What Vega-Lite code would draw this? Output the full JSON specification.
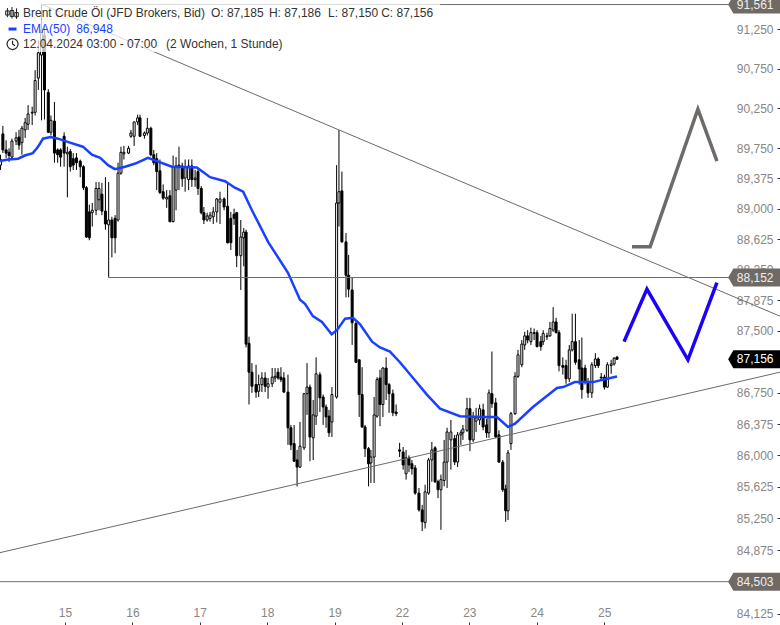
{"$schema":"https://vega.github.io/schema/vega-lite/v6.json","width":780,"height":625,"padding":{"left":0,"right":0,"top":0,"bottom":0},"autosize":{"type":"none"},"background":"white","config":{"view":{"stroke":null},"font":"Liberation Sans"},
"datasets":{
"candles":[
{"i":0,"o":89.54,"h":89.67,"l":89.48,"c":89.61},{"i":0.8,"o":89.93,"h":90.03,"l":89.69,"c":89.73},{"i":1.9,"o":89.73,"h":89.85,"l":89.63,"c":89.69},{"i":2.9,"o":89.70,"h":89.75,"l":89.58,"c":89.66},{"i":3.9,"o":89.64,"h":89.87,"l":89.61,"c":89.84},{"i":5.3,"o":89.84,"h":89.95,"l":89.79,"c":89.88},{"i":6.3,"o":89.89,"h":89.98,"l":89.73,"c":89.79},{"i":7.3,"o":89.82,"h":90.03,"l":89.67,"c":90.00},{"i":8.4,"o":89.98,"h":90.13,"l":89.88,"c":90.07},{"i":9.4,"o":90.05,"h":90.29,"l":89.98,"c":90.18},
{"i":10.8,"o":90.19,"h":90.27,"l":90.04,"c":90.20},{"i":11.8,"o":90.20,"h":90.73,"l":90.16,"c":90.60},{"i":12.9,"o":90.63,"h":91.11,"l":90.48,"c":90.95},{"i":14,"o":90.92,"h":91.56,"l":90.10,"c":91.24},{"i":15,"o":91.17,"h":91.30,"l":90.11,"c":90.48},{"i":16.3,"o":90.45,"h":90.49,"l":89.94,"c":89.95},{"i":17.2,"o":89.95,"h":90.16,"l":89.91,"c":90.10},{"i":18.4,"o":90.09,"h":90.33,"l":89.57,"c":89.69},{"i":19.5,"o":89.73,"h":89.75,"l":89.57,"c":89.67},{"i":20.5,"o":89.73,"h":89.75,"l":89.52,"c":89.64},
{"i":21.7,"o":89.90,"h":89.95,"l":89.52,"c":89.69},{"i":22.8,"o":89.68,"h":89.77,"l":89.14,"c":89.70},{"i":23.8,"o":89.71,"h":89.74,"l":89.46,"c":89.52},{"i":24.8,"o":89.62,"h":89.69,"l":89.48,"c":89.54},{"i":25.9,"o":89.63,"h":89.69,"l":89.48,"c":89.57},{"i":27.2,"o":89.59,"h":89.61,"l":89.39,"c":89.52},{"i":28.3,"o":89.52,"h":89.54,"l":89.23,"c":89.26},{"i":29.3,"o":89.26,"h":89.28,"l":88.64,"c":88.65},{"i":30.3,"o":88.96,"h":89.05,"l":88.61,"c":88.64},{"i":31.3,"o":88.95,"h":89.07,"l":88.78,"c":88.98},
{"i":32.6,"o":88.98,"h":89.33,"l":88.92,"c":89.25},{"i":33.6,"o":89.11,"h":89.33,"l":88.98,"c":89.25},{"i":34.6,"o":89.18,"h":89.32,"l":88.92,"c":88.97},{"i":35.8,"o":88.97,"h":89.39,"l":88.74,"c":88.81},{"i":36.9,"o":88.80,"h":89.33,"l":88.16,"c":88.86},{"i":38,"o":88.86,"h":88.90,"l":88.40,"c":88.64},{"i":39.1,"o":88.88,"h":88.92,"l":88.45,"c":88.64},{"i":40.1,"o":88.86,"h":89.57,"l":88.84,"c":89.44},{"i":41.1,"o":89.44,"h":89.77,"l":89.42,"c":89.70},{"i":42.1,"o":89.68,"h":89.78,"l":89.61,"c":89.70},
{"i":43.7,"o":89.69,"h":89.78,"l":89.68,"c":89.75},{"i":44.5,"o":89.90,"h":89.98,"l":89.88,"c":89.94},{"i":45.6,"o":89.90,"h":90.08,"l":89.78,"c":90.08},{"i":46.8,"o":90.08,"h":90.17,"l":90.04,"c":90.13},{"i":47.6,"o":90.13,"h":90.17,"l":89.89,"c":89.90},{"i":49.1,"o":89.91,"h":89.96,"l":89.87,"c":89.94},{"i":50.1,"o":89.94,"h":90.13,"l":89.91,"c":90.00},{"i":51.3,"o":90.00,"h":90.02,"l":89.65,"c":89.67},{"i":52.3,"o":89.67,"h":89.73,"l":89.54,"c":89.57},{"i":53.3,"o":89.62,"h":89.69,"l":89.23,"c":89.46},
{"i":54.4,"o":89.47,"h":89.61,"l":89.18,"c":89.20},{"i":55.5,"o":89.21,"h":89.30,"l":89.11,"c":89.13},{"i":56.7,"o":89.12,"h":89.23,"l":89.01,"c":89.14},{"i":57.8,"o":89.16,"h":89.23,"l":88.83,"c":88.84},{"i":58.9,"o":88.84,"h":89.66,"l":88.83,"c":89.51},{"i":59.9,"o":89.23,"h":89.64,"l":88.98,"c":89.53},{"i":60.9,"o":89.54,"h":89.77,"l":89.23,"c":89.51},{"i":62,"o":89.53,"h":89.57,"l":89.27,"c":89.37},{"i":63,"o":89.38,"h":89.61,"l":89.21,"c":89.51},{"i":64.2,"o":89.36,"h":89.61,"l":89.23,"c":89.53},
{"i":65.3,"o":89.53,"h":89.61,"l":89.27,"c":89.36},{"i":66.4,"o":89.36,"h":89.48,"l":89.27,"c":89.38},{"i":67.4,"o":89.46,"h":89.51,"l":89.17,"c":89.25},{"i":68.5,"o":89.25,"h":89.28,"l":88.93,"c":88.95},{"i":69.4,"o":88.95,"h":89.02,"l":88.81,"c":88.86},{"i":70.5,"o":88.86,"h":88.95,"l":88.84,"c":88.91},{"i":71.5,"o":88.88,"h":88.96,"l":88.84,"c":88.92},{"i":72.6,"o":88.90,"h":89.02,"l":88.81,"c":88.96},{"i":73.8,"o":88.96,"h":89.13,"l":88.83,"c":89.12},{"i":74.9,"o":89.08,"h":89.21,"l":88.81,"c":89.12},
{"i":76.3,"o":89.12,"h":89.14,"l":88.98,"c":89.02},{"i":77.5,"o":89.03,"h":89.32,"l":88.57,"c":88.58},{"i":78.6,"o":88.88,"h":88.96,"l":88.49,"c":88.58},{"i":79.7,"o":88.93,"h":89.00,"l":88.80,"c":88.88},{"i":80.6,"o":88.95,"h":88.96,"l":88.28,"c":88.42},{"i":82,"o":88.42,"h":88.86,"l":88.00,"c":88.65},{"i":83,"o":88.64,"h":88.76,"l":88.29,"c":88.71},{"i":83.8,"o":88.71,"h":88.74,"l":87.30,"c":87.34},{"i":84.8,"o":87.35,"h":87.43,"l":86.61,"c":87.00},{"i":85.8,"o":87.00,"h":87.11,"l":86.75,"c":86.83},
{"i":87.2,"o":86.85,"h":87.09,"l":86.69,"c":86.76},{"i":88.1,"o":86.77,"h":86.97,"l":86.70,"c":86.85},{"i":89.2,"o":86.85,"h":87.00,"l":86.76,"c":86.93},{"i":90.3,"o":86.93,"h":87.00,"l":86.76,"c":86.83},{"i":91.3,"o":86.82,"h":86.93,"l":86.68,"c":86.86},{"i":92.7,"o":86.86,"h":87.05,"l":86.82,"c":86.94},{"i":93.7,"o":86.93,"h":87.05,"l":86.88,"c":86.95},{"i":94.7,"o":87.00,"h":87.05,"l":86.91,"c":86.93},{"i":95.7,"o":86.94,"h":87.06,"l":86.88,"c":86.91},{"i":96.7,"o":86.93,"h":87.00,"l":86.75,"c":86.76},
{"i":98.1,"o":86.76,"h":86.97,"l":86.125,"c":86.33},{"i":99.1,"o":86.33,"h":86.365,"l":86.065,"c":86.125},{"i":100.2,"o":86.14,"h":86.365,"l":85.92,"c":85.93},{"i":101.2,"o":85.945,"h":86.065,"l":85.63,"c":85.86},{"i":102.2,"o":85.86,"h":86.40,"l":85.85,"c":86.11},{"i":103.6,"o":86.09,"h":86.75,"l":86.065,"c":86.74},{"i":104.6,"o":86.74,"h":87.11,"l":86.485,"c":86.82},{"i":105.6,"o":86.82,"h":86.85,"l":85.93,"c":86.22},{"i":106.7,"o":86.21,"h":86.665,"l":85.945,"c":86.485},{"i":107.7,"o":86.47,"h":87.18,"l":86.365,"c":86.98},
{"i":109,"o":86.97,"h":87.00,"l":86.52,"c":86.69},{"i":110.1,"o":86.70,"h":86.73,"l":86.365,"c":86.58},{"i":111.1,"o":86.58,"h":86.61,"l":86.33,"c":86.46},{"i":112.1,"o":86.47,"h":86.545,"l":86.22,"c":86.27},{"i":113.1,"o":86.40,"h":86.82,"l":86.22,"c":86.73},{"i":114.7,"o":86.70,"h":89.54,"l":86.68,"c":89.07},{"i":115.5,"o":89.07,"h":89.98,"l":88.78,"c":89.21},{"i":116.5,"o":89.22,"h":89.46,"l":88.58,"c":88.59},{"i":117.9,"o":88.59,"h":88.70,"l":87.91,"c":88.18},{"i":118.8,"o":88.18,"h":88.43,"l":87.91,"c":88.01},
{"i":120,"o":88.00,"h":88.15,"l":87.33,"c":87.60},{"i":121.3,"o":87.59,"h":87.61,"l":87.11,"c":87.12},{"i":122.4,"o":87.15,"h":87.15,"l":86.46,"c":86.73},{"i":123.4,"o":86.73,"h":87.06,"l":86.33,"c":86.34},{"i":124.4,"o":86.34,"h":86.365,"l":85.98,"c":86.08},{"i":125.6,"o":86.08,"h":86.10,"l":85.63,"c":85.90},{"i":126.4,"o":85.91,"h":86.065,"l":85.67,"c":85.98},{"i":127.5,"o":85.98,"h":86.70,"l":85.67,"c":86.485},{"i":128.5,"o":86.47,"h":86.94,"l":86.45,"c":86.91},{"i":129.5,"o":86.93,"h":87.03,"l":86.35,"c":86.61},
{"i":130.5,"o":86.61,"h":87.06,"l":86.46,"c":87.05},{"i":131.6,"o":87.05,"h":87.18,"l":86.665,"c":86.85},{"i":132.6,"o":86.85,"h":86.87,"l":86.51,"c":86.74},{"i":133.9,"o":86.74,"h":86.79,"l":86.47,"c":86.51},{"i":135,"o":86.52,"h":86.61,"l":86.47,"c":86.50},{"i":136.2,"o":86.065,"h":86.15,"l":85.98,"c":86.05},{"i":137.4,"o":86.04,"h":86.10,"l":85.83,"c":85.885},{"i":138.4,"o":85.78,"h":86.065,"l":85.71,"c":85.97},{"i":139.4,"o":85.97,"h":86.00,"l":85.80,"c":85.885},{"i":140.4,"o":85.90,"h":85.945,"l":85.77,"c":85.84},
{"i":141.5,"o":85.85,"h":85.885,"l":85.53,"c":85.55},{"i":142.8,"o":85.55,"h":85.61,"l":85.33,"c":85.35},{"i":143.9,"o":85.35,"h":85.41,"l":85.10,"c":85.21},{"i":144.9,"o":85.20,"h":85.65,"l":85.13,"c":85.565},{"i":146.1,"o":85.55,"h":85.97,"l":85.53,"c":85.945},{"i":147.2,"o":85.945,"h":86.16,"l":85.685,"c":86.065},{"i":148.3,"o":86.09,"h":86.11,"l":85.67,"c":85.685},{"i":149.3,"o":85.685,"h":85.71,"l":85.49,"c":85.59},{"i":150.3,"o":85.59,"h":85.77,"l":85.115,"c":85.71},{"i":151.4,"o":85.70,"h":86.185,"l":85.63,"c":85.92},
{"i":152.4,"o":85.92,"h":86.33,"l":85.61,"c":86.28},{"i":153.7,"o":86.185,"h":86.425,"l":85.83,"c":86.28},{"i":155,"o":86.20,"h":86.245,"l":85.885,"c":85.92},{"i":156,"o":85.92,"h":86.28,"l":85.86,"c":86.245},{"i":157.1,"o":86.245,"h":86.30,"l":86.125,"c":86.27},{"i":157.8,"o":86.27,"h":86.365,"l":86.185,"c":86.315},{"i":159.2,"o":86.30,"h":86.69,"l":86.28,"c":86.56},{"i":160.2,"o":86.56,"h":86.69,"l":86.05,"c":86.185},{"i":161.3,"o":86.185,"h":86.52,"l":86.16,"c":86.46},{"i":162.3,"o":86.41,"h":86.57,"l":86.28,"c":86.45},
{"i":163.5,"o":86.425,"h":86.61,"l":86.365,"c":86.56},{"i":164.7,"o":86.545,"h":86.62,"l":86.30,"c":86.34},{"i":165.9,"o":86.365,"h":86.44,"l":86.21,"c":86.27},{"i":166.7,"o":86.27,"h":86.79,"l":86.21,"c":86.75},{"i":167.7,"o":86.74,"h":87.25,"l":86.57,"c":86.62},{"i":169,"o":86.63,"h":86.69,"l":86.21,"c":86.22},{"i":170.1,"o":86.245,"h":86.30,"l":85.91,"c":85.92},{"i":171.4,"o":85.92,"h":85.945,"l":85.565,"c":85.59},{"i":172.4,"o":85.60,"h":85.65,"l":85.21,"c":85.34},{"i":173.2,"o":85.34,"h":86.065,"l":85.23,"c":86.03},
{"i":174.2,"o":86.14,"h":86.52,"l":86.065,"c":86.50},{"i":175.6,"o":86.50,"h":87.00,"l":86.485,"c":86.95},{"i":176.6,"o":86.95,"h":87.27,"l":86.93,"c":87.21},{"i":177.9,"o":87.09,"h":87.39,"l":87.06,"c":87.34},{"i":178.9,"o":87.33,"h":87.49,"l":87.27,"c":87.44},{"i":179.9,"o":87.44,"h":87.51,"l":87.35,"c":87.39},{"i":181,"o":87.37,"h":87.54,"l":87.33,"c":87.48},{"i":182.1,"o":87.47,"h":87.53,"l":87.39,"c":87.48},{"i":183.1,"o":87.48,"h":87.51,"l":87.30,"c":87.31},{"i":184.4,"o":87.37,"h":87.44,"l":87.26,"c":87.31},
{"i":185.2,"o":87.37,"h":87.51,"l":87.33,"c":87.47},{"i":186.5,"o":87.44,"h":87.48,"l":87.39,"c":87.43},{"i":187.5,"o":87.44,"h":87.61,"l":87.43,"c":87.53},{"i":188.6,"o":87.51,"h":87.79,"l":87.49,"c":87.61},{"i":189.6,"o":87.61,"h":87.66,"l":87.47,"c":87.48},{"i":190.6,"o":87.48,"h":87.51,"l":87.01,"c":87.08},{"i":191.9,"o":87.08,"h":87.18,"l":86.97,"c":87.06},{"i":193,"o":87.08,"h":87.15,"l":86.86,"c":86.92},{"i":194.1,"o":86.92,"h":87.33,"l":86.88,"c":87.27},{"i":195.1,"o":87.27,"h":87.71,"l":87.25,"c":87.37},
{"i":196.2,"o":87.37,"h":87.71,"l":87.09,"c":87.12},{"i":197.5,"o":87.15,"h":87.39,"l":86.85,"c":87.04},{"i":198.4,"o":87.05,"h":87.42,"l":86.68,"c":86.79},{"i":199.5,"o":87.05,"h":87.09,"l":86.85,"c":86.88},{"i":200.5,"o":86.88,"h":86.93,"l":86.69,"c":86.75},{"i":201.8,"o":86.75,"h":87.12,"l":86.69,"c":87.09},{"i":203,"o":87.08,"h":87.23,"l":87.05,"c":87.16},{"i":204,"o":87.16,"h":87.18,"l":87.05,"c":87.08},{"i":205,"o":86.94,"h":86.99,"l":86.91,"c":86.93},{"i":206.1,"o":86.94,"h":86.97,"l":86.79,"c":86.82},
{"i":207.1,"o":86.82,"h":87.12,"l":86.81,"c":87.09},{"i":208.4,"o":87.08,"h":87.15,"l":86.98,"c":87.10},{"i":209.4,"o":87.10,"h":87.18,"l":87.08,"c":87.17},{"i":210.4,"o":87.185,"h":87.186,"l":87.15,"c":87.156}
],
"ema":[{"i":-0.18,"p":89.59},{"i":2.5,"p":89.61},{"i":6,"p":89.62},{"i":8.3,"p":89.66},{"i":11,"p":89.69},{"i":12.8,"p":89.77},{"i":14.5,"p":89.87},{"i":17,"p":89.89},{"i":19.6,"p":89.87},{"i":23.7,"p":89.82},{"i":28.1,"p":89.77},{"i":31.2,"p":89.67},{"i":34,"p":89.63},{"i":36.7,"p":89.54},{"i":39,"p":89.49},{"i":42.5,"p":89.52},{"i":46,"p":89.56},{"i":50.3,"p":89.63},{"i":58.5,"p":89.52},{"i":67,"p":89.51},{"i":71.5,"p":89.39},{"i":76.6,"p":89.34},{"i":80,"p":89.26},{"i":82.8,"p":89.21},{"i":85.8,"p":88.98},{"i":91.3,"p":88.59},{"i":98.1,"p":88.21},{"i":102.2,"p":87.88},{"i":103.9,"p":87.83},{"i":106.6,"p":87.68},{"i":109.7,"p":87.61},{"i":113,"p":87.46},{"i":114.8,"p":87.51},{"i":117.6,"p":87.65},{"i":120.3,"p":87.66},{"i":122.7,"p":87.58},{"i":126.8,"p":87.37},{"i":129.5,"p":87.30},{"i":132.9,"p":87.25},{"i":136.3,"p":87.12},{"i":140.8,"p":86.93},{"i":145.5,"p":86.73},{"i":150,"p":86.56},{"i":156.8,"p":86.47},{"i":164.7,"p":86.46},{"i":169.4,"p":86.46},{"i":173.2,"p":86.34},{"i":175.6,"p":86.38},{"i":181.7,"p":86.58},{"i":189.9,"p":86.81},{"i":192,"p":86.82},{"i":196,"p":86.88},{"i":202.2,"p":86.88},{"i":207,"p":86.92},{"i":210.4,"p":86.948}],
"levels":[{"s":"a","i":14.2,"p":91.561},{"s":"a","i":249,"p":91.561},{"s":"b","i":36.7,"p":88.152},{"s":"b","i":249,"p":88.152},{"s":"c","i":-0.18,"p":84.503},{"s":"c","i":249,"p":84.503},{"s":"d","i":14.2,"p":91.561},{"s":"d","i":266,"p":87.68},{"s":"e","i":-0.18,"p":84.845},{"s":"e","i":266,"p":87.0}],
"grayzig":[{"i":215.5,"p":88.53},{"i":221.7,"p":88.53},{"i":238,"p":90.24},{"i":244.5,"p":89.59}],
"bluezig":[{"i":212.8,"p":87.37},{"i":220.6,"p":88.01},{"i":234.6,"p":87.15},{"i":244.5,"p":88.09}],
"box":[{"i":-0.18,"i2":150,"p":91.619,"p2":91.37},{"i":-0.18,"i2":98.1,"p":91.37,"p2":90.96}],
"badges":[{"i":257.2,"p":91.561,"label":"91,561"},{"i":257.2,"p":88.152,"label":"88,152"},{"i":257.2,"p":84.503,"label":"84,503"}],
"last":[{"i":257.2,"p":87.156,"label":"87,156"}],
"dark":[{"i":7.66,"p":91.45,"label":"Brent Crude Öl (JFD Brokers, Bid)"},{"i":71.8,"p":91.45,"label":"O: 87,185"},{"i":91.6,"p":91.45,"label":"H: 87,186"},{"i":111.8,"p":91.45,"label":"L: 87,150"},{"i":129.9,"p":91.45,"label":"C: 87,156"},{"i":7.66,"p":91.06,"label":"12.04.2024 03:00 - 07:00"},{"i":56.5,"p":91.06,"label":"(2 Wochen, 1 Stunde)"}],
"blue":[{"i":7.66,"p":91.25,"label":"EMA(50)"},{"i":25.8,"p":91.25,"label":"86,948"}]
},
"encoding":{
"x":{"field":"i","type":"quantitative","scale":{"domain":[-0.184,266.02],"nice":false,"zero":false,"padding":0},"axis":{"orient":"top","offset":-625,"title":null,"grid":false,"domain":false,"values":[22,45,68,91,114,137,160,183,206],"labelExpr":"['15','16','17','18','19','22','23','24','25'][(datum.value-22)/23]","tickSize":3,"tickColor":"#333333","labelPadding":3,"labelColor":"#8a8684","labelFontSize":12,"labelFont":"Liberation Sans","labelOverlap":false,"labelFlush":false}},
"y":{"field":"p","type":"quantitative","scale":{"type":"log","domain":[83.996,91.619],"nice":false,"zero":false},"axis":{"orient":"left","offset":-780,"title":null,"grid":false,"domain":false,"values":[91.25,90.75,90.25,89.75,89.375,89,88.625,88.25,87.875,87.5,86.75,86.375,86,85.625,85.25,84.875,84.125],"labelExpr":"replace(format(datum.value,'.3f'),'.',',')","tickSize":3,"tickColor":"#333333","labelPadding":4,"labelColor":"#8a8684","labelFontSize":12,"labelFont":"Liberation Sans","labelOverlap":false,"labelFlush":false}}
},
"layer":[
{"data":{"name":"candles"},"mark":{"type":"rule","stroke":"black","strokeWidth":1},"encoding":{"y":{"field":"l","type":"quantitative","scale":{"type":"log","domain":[83.996,91.619],"nice":false,"zero":false},"axis":{"orient":"left","offset":-780,"title":null,"grid":false,"domain":false,"values":[91.25,90.75,90.25,89.75,89.375,89,88.625,88.25,87.875,87.5,86.75,86.375,86,85.625,85.25,84.875,84.125],"labelExpr":"replace(format(datum.value,'.3f'),'.',',')","tickSize":3,"tickColor":"#333333","labelPadding":4,"labelColor":"#8a8684","labelFontSize":12,"labelFont":"Liberation Sans","labelOverlap":false,"labelFlush":false}},"y2":{"field":"h"}}},
{"data":{"name":"candles"},"mark":{"type":"bar","width":2,"stroke":"black","strokeWidth":1},"encoding":{"y":{"field":"o","type":"quantitative","scale":{"type":"log","domain":[83.996,91.619],"nice":false,"zero":false},"axis":{"orient":"left","offset":-780,"title":null,"grid":false,"domain":false,"values":[91.25,90.75,90.25,89.75,89.375,89,88.625,88.25,87.875,87.5,86.75,86.375,86,85.625,85.25,84.875,84.125],"labelExpr":"replace(format(datum.value,'.3f'),'.',',')","tickSize":3,"tickColor":"#333333","labelPadding":4,"labelColor":"#8a8684","labelFontSize":12,"labelFont":"Liberation Sans","labelOverlap":false,"labelFlush":false}},"y2":{"field":"c"},"fill":{"condition":{"test":"datum.c>=datum.o","value":"white"},"value":"black"}}},
{"data":{"name":"ema"},"mark":{"type":"line","stroke":"#1a40ff","strokeWidth":2.5}},
{"data":{"name":"levels"},"mark":{"type":"line","stroke":"#6e6a68","strokeWidth":1,"clip":true},"encoding":{"detail":{"field":"s"}}},
{"data":{"name":"grayzig"},"mark":{"type":"line","stroke":"#6e6a68","strokeWidth":3.5}},
{"data":{"name":"bluezig"},"mark":{"type":"line","stroke":"#1c00ff","strokeWidth":3.5}},
{"data":{"name":"box"},"mark":{"type":"rect","fill":"white","opacity":0.75,"clip":true},"encoding":{"x2":{"field":"i2"},"y2":{"field":"p2"}}},
{"data":{"name":"badges"},"mark":{"type":"point","filled":true,"fill":"#6f6a66","opacity":1,"stroke":null,"size":2704,"clip":true,"shape":"M-1,0 L-0.8,-0.346 L1,-0.346 L1,0.346 L-0.8,0.346 Z"}},
{"data":{"name":"last"},"mark":{"type":"point","filled":true,"fill":"#000000","opacity":1,"stroke":null,"size":2704,"clip":true,"shape":"M-1,0 L-0.8,-0.346 L1,-0.346 L1,0.346 L-0.8,0.346 Z"}},
{"data":{"name":"badges"},"mark":{"type":"text","align":"center","baseline":"middle","fontSize":12,"font":"Liberation Sans","fill":"#eeeeee","dx":1,"clip":true},"encoding":{"text":{"field":"label"}}},
{"data":{"name":"last"},"mark":{"type":"text","align":"center","baseline":"middle","fontSize":12,"font":"Liberation Sans","fill":"#ffffff","dx":1,"clip":true},"encoding":{"text":{"field":"label"}}},
{"data":{"name":"dark"},"mark":{"type":"text","align":"left","baseline":"middle","fontSize":12,"font":"Liberation Sans","fill":"#333333"},"encoding":{"text":{"field":"label"}}},
{"data":{"name":"blue"},"mark":{"type":"text","align":"left","baseline":"middle","fontSize":12,"font":"Liberation Sans","fill":"#1a40ff"},"encoding":{"text":{"field":"label"}}},
{"data":{"values":[{"i":3.9,"p":91.45}]},"mark":{"type":"point","filled":false,"stroke":"#222222","strokeWidth":1,"opacity":1,"size":196,"shape":"M-0.65,-0.75 L-0.65,0.55 M-0.9,-0.35 L-0.4,-0.35 L-0.4,0.25 L-0.9,0.25 Z M0,-0.9 L0,0.75 M-0.25,-0.4 L0.25,-0.4 L0.25,0.45 L-0.25,0.45 Z M0.65,-0.7 L0.65,0.8 M0.4,-0.1 L0.9,-0.1 L0.9,0.5 L0.4,0.5 Z"}},
{"data":{"values":[{"i":4.1,"p":91.25}]},"mark":{"type":"point","filled":false,"stroke":"#1a40ff","strokeWidth":3,"opacity":1,"size":64,"shape":"M-1,0 L1,0"}},
{"data":{"values":[{"i":4.1,"p":91.06}]},"mark":{"type":"point","filled":false,"stroke":"#222222","strokeWidth":1.2,"opacity":1,"size":121,"shape":"M0,-1 A1,1 0 1,1 0,1 A1,1 0 1,1 0,-1 M0,-0.6 L0,0 L0.45,0.3"}}
]}
